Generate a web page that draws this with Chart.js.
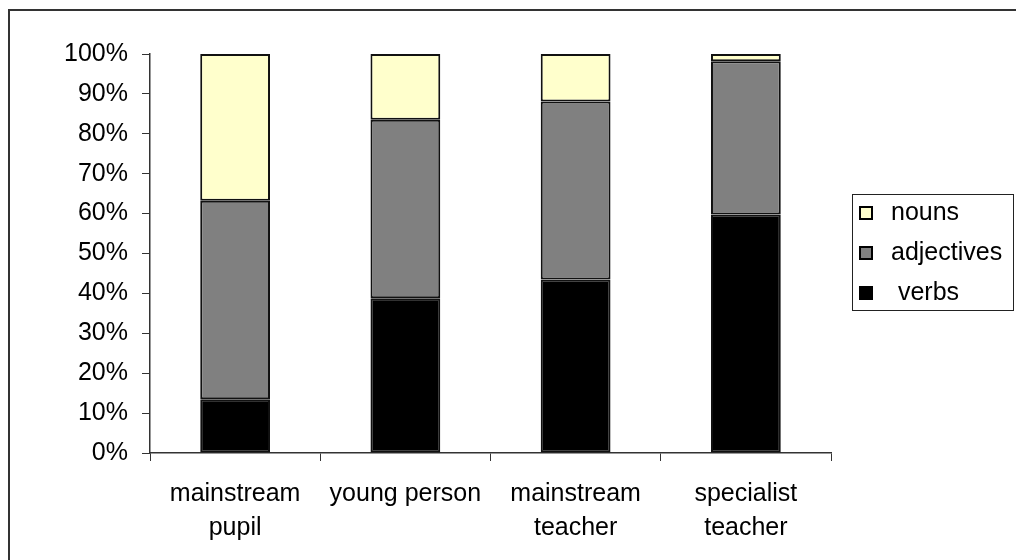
<!DOCTYPE html>
<html>
<head>
<meta charset="utf-8">
<script src="https://cdn.jsdelivr.net/npm/chart.js@4/dist/chart.umd.min.js"></script>
<style>
    html, body { margin: 0; padding: 0; background: #fff; }
    #wrap { width: 1016px; height: 560px; position: relative; }
</style>
</head>
<body>
<div id="wrap"><canvas id="wordChart" width="1016" height="560"></canvas></div>
<script>
// categorias y valores (porcentaje de cada tipo de palabra)
const categories = [['mainstream', 'pupil'], 'young person', ['mainstream', 'teacher'], ['specialist', 'teacher']];
const verbs = [13.5, 38.8, 43.5, 59.8];
const adjectives = [49.7, 44.7, 44.6, 38.4];
const nouns = [36.8, 16.5, 11.9, 1.8];
const yTicks = [0, 10, 20, 30, 40, 50, 60, 70, 80, 90, 100];

const FONT = '"Liberation Sans", Arial, sans-serif';
const FONT_SIZE = 25;

// marco exterior (solo lados izquierdo y superior se ven)
const framePlugin = {
    id: 'frame',
    beforeDraw(chart) {
        const c = chart.ctx;
        c.save();
        c.strokeStyle = '#333';
        c.lineWidth = 2;
        c.beginPath();
        c.moveTo(9, 570);
        c.lineTo(9, 10);
        c.lineTo(1030, 10);
        c.stroke();
        c.restore();
    }
};

// leyenda con recuadro, como en Excel
const legendPlugin = {
    id: 'boxLegend',
    afterDraw(chart) {
        const c = chart.ctx;
        const x0 = 852, y0 = 194, w = 161, h = 116;
        c.save();
        c.fillStyle = '#fff';
        c.fillRect(x0, y0, w, h);
        c.strokeStyle = '#222';
        c.lineWidth = 1;
        c.strokeRect(x0 + 0.5, y0 + 0.5, w, h);
        const items = chart.data.datasets.slice().reverse();
        c.font = FONT_SIZE + 'px ' + FONT;
        c.textBaseline = 'middle';
        items.forEach(function (ds, i) {
            const cy = y0 + 19 + i * 40;
            c.fillStyle = ds.backgroundColor;
            c.fillRect(860, cy - 6, 12, 12);
            c.strokeStyle = '#000';
            c.lineWidth = 2;
            c.strokeRect(860, cy - 6, 12, 12);
            c.fillStyle = '#000';
            c.fillText(ds.legendText, 891, cy);
        });
        c.restore();
    }
};

const ctx = document.getElementById('wordChart').getContext('2d');
new Chart(ctx, {
    type: 'bar',
    data: {
        labels: categories,
        datasets: [
            { label: 'verbs', legendText: ' verbs', data: verbs, backgroundColor: '#000000' },
            { label: 'adjectives', legendText: 'adjectives', data: adjectives, backgroundColor: '#808080' },
            { label: 'nouns', legendText: 'nouns', data: nouns, backgroundColor: '#FFFFCC' }
        ].map(function (d) {
            return Object.assign(d, {
                borderColor: '#111',
                borderWidth: 2,
                borderSkipped: false,
                categoryPercentage: 1,
                barPercentage: 0.41
            });
        })
    },
    options: {
        responsive: false,
        animation: false,
        layout: { padding: { left: 0, top: 54, right: 185, bottom: 0 } },
        plugins: {
            legend: { display: false },
            tooltip: { enabled: false }
        },
        scales: {
            x: {
                stacked: true,
                grid: { drawOnChartArea: false, drawTicks: true, tickLength: 8, color: '#333', offset: true },
                border: { display: true, color: '#333', width: 1.5 },
                ticks: {
                    color: '#000',
                    padding: 16,
                    maxRotation: 0,
                    font: { family: FONT, size: FONT_SIZE, lineHeight: 1.36 }
                },
                afterFit: function (s) { s.height = 107; }
            },
            y: {
                stacked: true,
                min: 0,
                max: 100,
                afterBuildTicks: function (s) { s.ticks = yTicks.map(function (v) { return { value: v }; }); },
                grid: { drawOnChartArea: false, drawTicks: true, tickLength: 8, color: '#333' },
                border: { display: true, color: '#333', width: 1.5 },
                ticks: {
                    color: '#000',
                    padding: 14,
                    font: { family: FONT, size: FONT_SIZE },
                    callback: function (v) { return v + '%'; }
                },
                afterFit: function (s) { s.width = 150; }
            }
        }
    },
    plugins: [framePlugin, legendPlugin]
});
</script>
</body>
</html>
